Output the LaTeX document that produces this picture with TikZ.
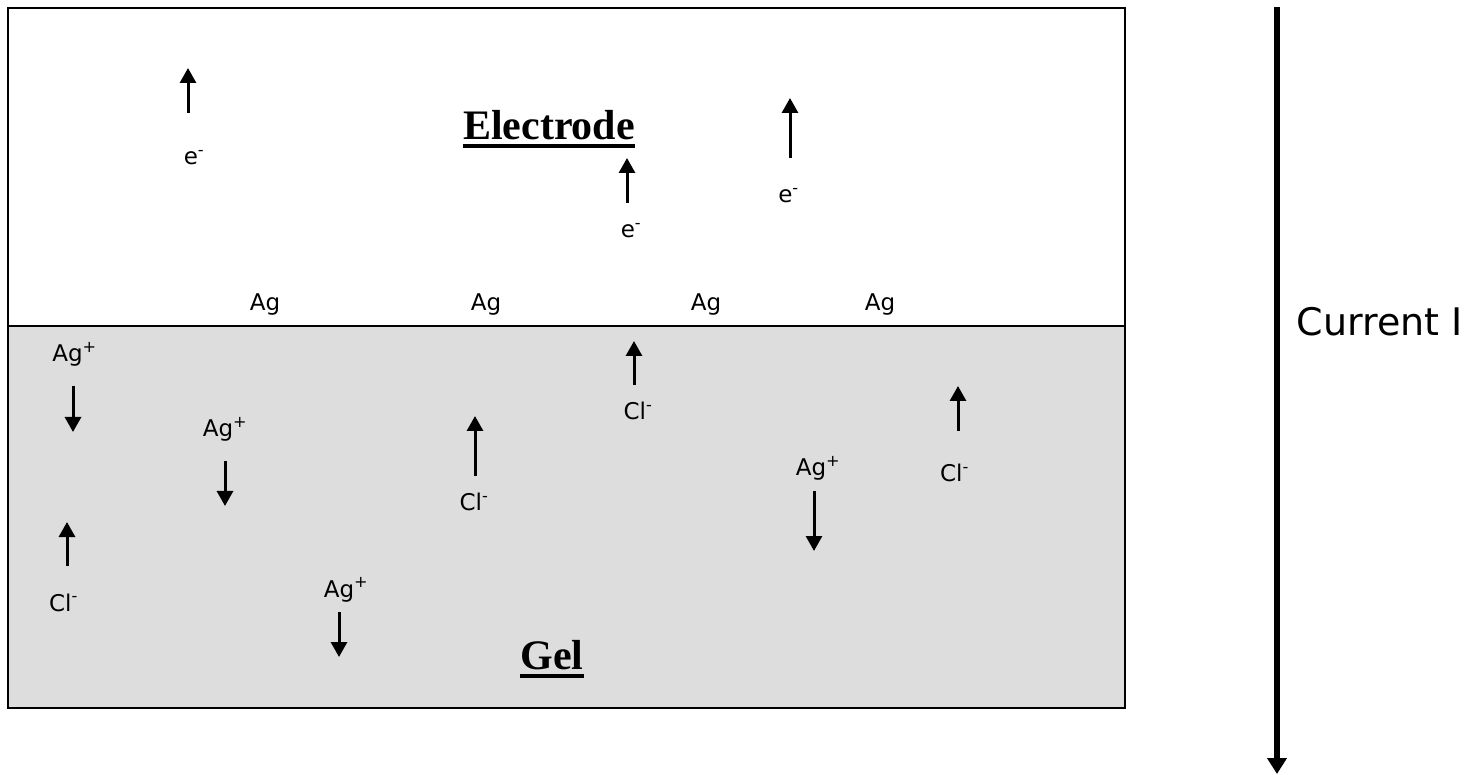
\documentclass[tikz,border=0pt]{standalone}
\usepackage{fontspec}
\setmainfont{Liberation Serif}
\newfontfamily\labelfont{DejaVu Sans}
\usetikzlibrary{arrows.meta}
\definecolor{ink}{HTML}{000000}
\definecolor{gelgrey}{HTML}{DDDDDD}
\newcommand{\Lbl}{\labelfont\fontsize{23}{27}\selectfont}
\newcommand{\CurFont}{\labelfont\fontsize{38}{44}\selectfont}
\newcommand{\Ttl}{\rmfamily\bfseries\fontsize{42}{48}\selectfont}

\begin{document}
\begin{tikzpicture}[x=1pt,y=-1pt, font=\Lbl,
    flow/.style={ink,line width=3pt,-{Triangle[width=16pt,length=15pt]}},
    ion/.style={anchor=base,inner sep=0pt,text=ink},
    ttl/.style={anchor=base,inner sep=0pt,text=ink,font=\Ttl}]
  \useasboundingbox (0,0) rectangle (1476,775);
  % electrode and gel
  \fill[gelgrey] (8,326) rectangle (1125,708);
  \draw[ink,line width=2pt] (8,8) rectangle (1125,708);
  \draw[ink,line width=2pt] (8,326) -- (1125,326);
  % titles
  \node[ttl] (electrode) at (549,140) {Electrode};
  \node[ttl] (gel) at (552,669) {Gel};
  \draw[ink,line width=4pt] ([yshift=-6pt]electrode.base west) -- ([yshift=-6pt]electrode.base east);
  \draw[ink,line width=4pt] ([yshift=-6.5pt]gel.base west) -- ([yshift=-6.5pt]gel.base east);
  % silver at the boundary
  \foreach \x [count=\i] in {265,486,706,880}{
    \node[ion] (ag\i) at (\x,311) {Ag};}
  % ions and electrons
  \foreach \x/\y/\t [count=\i] in {194/165/e\textsuperscript{-}, 631/238/e\textsuperscript{-}, 788.5/203/e\textsuperscript{-},
      74.5/362/Ag\textsuperscript{+}, 225/437/Ag\textsuperscript{+}, 346/597/Ag\textsuperscript{+}, 818/476/Ag\textsuperscript{+},
      63.5/611/Cl\textsuperscript{-}, 474/511/Cl\textsuperscript{-}, 638/420/Cl\textsuperscript{-}, 954.5/482/Cl\textsuperscript{-}}{
    \node[ion] (p\i) at (\x,\y) {\t};}
  % motion arrows
  \foreach \x/\ya/\yb [count=\i] in {188/113/68, 627/203/158, 790/158/98, 67/566/522, 475/476/416, 634/385/341, 958/431/386,
      73/386/432, 225/461/506, 339/612/657, 814/491/551}{
    \coordinate (m\i-a) at (\x,\ya);
    \coordinate (m\i-b) at (\x,\yb);
    \draw[flow] (m\i-a) -- (m\i-b);}
  % current
  \coordinate (cur-a) at (1277,7);
  \coordinate (cur-b) at (1277,774);
  \draw[ink,line width=6pt,-{Triangle[width=19pt,length=16pt]}] (cur-a) -- (cur-b);
  \node[anchor=base east,inner sep=0pt,text=ink,font=\CurFont] (current) at (1463,336) {Current I};
\end{tikzpicture}
\end{document}
